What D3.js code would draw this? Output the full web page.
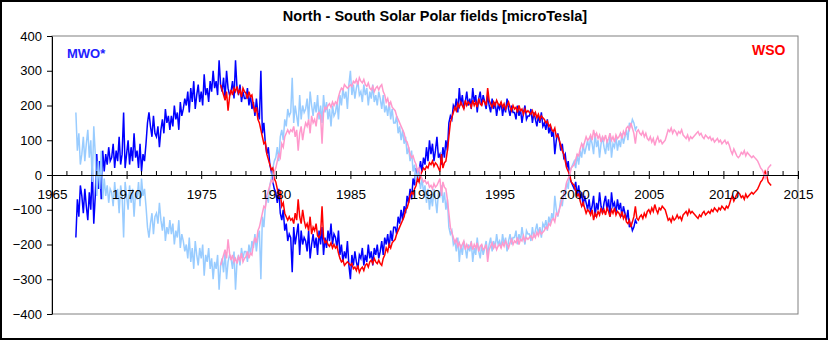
<!DOCTYPE html>
<html>
<head>
<meta charset="utf-8">
<script src="https://cdn.jsdelivr.net/npm/d3@7"></script>
<style>
  body { margin: 0; background: #fff; }
  svg { display: block; font-family: "Liberation Sans", Arial, sans-serif; }
</style>
</head>
<body>
<div id="chart"></div>
<script>
// valores (microTesla), un punto cada 0.1 año
const mwoStart = 1966.6;
const wsoStart = 1976.3;
const step = 0.1;

const mwo = [
  -180, -70, -120, -30,
  -60, -110, -40, -90, -130, -50, -100, 20, -140, -60,
  60, -40, 40, -70, 70, 10, 60, 30, 80, 40,
  50, 90, 20, 70, 40, 110, 30, 60, 180, 20,
  60, 100, 30, 80, 40, 120, 50, 70, 20, 90,
  10, 60, 40, 90, 150, 180, 140, 110, 170, 120,
  110, 140, 80, 130, 160, 120, 190, 150, 170, 130,
  170, 140, 200, 160, 180, 130, 210, 170, 190, 220,
  200, 240, 180, 250, 210, 270, 190, 230, 260, 210,
  240, 200, 290, 230, 250, 210, 270, 240, 300, 250,
  270, 230, 330, 260, 240, 280, 220, 300, 250, 230,
  240, 270, 220, 330, 250, 230, 260, 210, 240, 220,
  220, 250, 200, 230, 190, 210, 170, 220, 180, 160,
  300, 120, 150, 90, 60, 80, 30, 10, -20, -40,
  -50, -80, -40, -110, -130, -100, -160, -140, -190, -170,
  -180, -280, -150, -200, -170, -140, -230, -160, -200, -180,
  -190, -220, -160, -240, -200, -170, -210, -180, -230, -160,
  -200, -150, -230, -180, -210, -160, -190, -140, -200, -170,
  -180, -210, -160, -230, -200, -250, -220, -240, -190, -260,
  -300, -230, -260, -220, -250, -270, -230, -240, -210, -260,
  -230, -250, -200, -240, -220, -260, -210, -230, -200, -240,
  -220, -190, -230, -180, -200, -170, -210, -160, -190, -150,
  -150, -170, -120, -140, -100, -130, -90, -110, -60, -80,
  -40, -70, -10, -30, 20, -20, 10, 40, 10, 50,
  30, 80, 40, 100, 60, 90, 40, 70, 110, 50,
  60, 30, 80, 50, 100, 70, 150, 170, 160, 200,
  190, 220, 180, 250, 200, 230, 190, 210, 240, 200,
  220, 190, 250, 210, 230, 180, 220, 240, 200, 230,
  210, 190, 230, 200, 180, 220, 190, 210, 170, 200,
  190, 210, 170, 200, 180, 220, 190, 170, 200, 180,
  180, 160, 200, 170, 190, 150, 180, 200, 160, 170,
  170, 190, 150, 180, 160, 140, 170, 150, 180, 140,
  150, 130, 160, 120, 140, 110, 130, 60, 100, 120,
  100, 70, 90, 50, 60, 20, 40, -10, -20, -30,
  -40, -20, -60, -30, -70, -50, -90, -60, -80, -100,
  -70, -110, -90, -60, -120, -80, -100, -50, -90, -110,
  -80, -60, -100, -70, -120, -50, -90, -80, -110, -70,
  -100, -80, -120, -90, -110, -130, -100, -150, -140, -160,
  -150, -130, -140
];

const wso = [
  260, 245, 230, 215, 240, 185, 225,
  245, 230, 250, 240, 255, 235, 245, 225, 250, 240,
  235, 220, 240, 225, 230, 200, 180, 195, 160, 150,
  130, 110, 90, 95, 60, 45, 30, 15, 20, -10,
  -20, -40, -60, -50, -90, -80, -110, -120, -130, -120,
  -130, -125, -140, -110, -130, -70, -120, -140, -100, -130,
  -150, -140, -160, -120, -170, -150, -160, -140, -175, -180,
  -170, -90, -180, -195, -190, -200, -205, -195, -210, -200,
  -210, -205, -225, -240, -250, -245, -260, -255, -250, -255,
  -260, -255, -270, -265, -275, -260, -280, -270, -265, -275,
  -260, -255, -265, -250, -245, -255, -240, -250, -255, -245,
  -255, -260, -240, -230, -210, -220, -200, -210, -195, -190,
  -185, -170, -160, -150, -140, -130, -120, -100, -95, -80,
  -60, -50, -55, -40, -30, -10, -20, 0, 10, 20,
  15, 25, 20, 35, 30, 40, 25, 35, 30, 20,
  10, 60, 20, 35, 40, 70, 110, 150, 165, 180,
  195, 185, 205, 195, 210, 200, 190, 215, 200, 210,
  205, 195, 215, 200, 210, 195, 220, 205, 200, 215,
  210, 200, 250, 215, 205, 195, 210, 200, 215, 205,
  200, 210, 195, 205, 190, 200, 210, 195, 185, 200,
  190, 195, 180, 200, 185, 190, 175, 190, 180, 185,
  180, 175, 185, 170, 180, 165, 175, 160, 170, 165,
  160, 150, 155, 140, 145, 130, 125, 135, 110, 115,
  100, 85, 70, 60, 40, 20, 10, 0, -20, -25,
  -30, -45, -60, -55, -75, -90, -80, -95, -110, -100,
  -105, -115, -100, -130, -110, -120, -105, -115, -95, -110,
  -100, -115, -95, -105, -120, -100, -110, -95, -115, -105,
  -110, -120, -105, -125, -115, -135, -140, -130, -150, -135,
  -120, -90, -125, -130, -120, -115, -125, -110, -120, -105,
  -100, -110, -95, -105, -85, -100, -110, -95, -100, -90,
  -95, -100, -115, -130, -125, -135, -120, -130, -125, -115,
  -125, -120, -130, -115, -110, -105, -115, -100, -110, -105,
  -110, -115, -120, -125, -115, -120, -110, -105, -115, -110,
  -105, -110, -100, -105, -95, -100, -105, -95, -100, -90,
  -95, -100, -90, -95, -85, -70, -60, -75, -65, -55,
  -50, -55, -65, -60, -70, -55, -65, -60, -55, -50,
  -55, -50, -45, -40, -30, -20, -15, -5, 10, 0,
  -20, -25, -30
];

const xTicks = [1965, 1970, 1975, 1980, 1985, 1990, 1995, 2000, 2005, 2010, 2015];
const yTicks = [-400, -300, -200, -100, 0, 100, 200, 300, 400];

const width = 829;
const height = 341;
const margin = { top: 36, right: 31, bottom: 27, left: 52 };

const svg = d3.select('#chart')
  .append('svg')
  .attr('width', width)
  .attr('height', height);

// marco exterior
svg.append('rect')
  .attr('x', 1).attr('y', 1)
  .attr('width', width - 3).attr('height', height - 3)
  .attr('fill', '#fff')
  .attr('stroke', '#000')
  .attr('stroke-width', 2);

const x = d3.scaleLinear()
  .domain([1965, 2015])
  .range([margin.left, width - margin.right]);

const y = d3.scaleLinear()
  .domain([-400, 400])
  .range([height - margin.bottom, margin.top]);

// borde del area de trazado
svg.append('rect')
  .attr('x', x(1965)).attr('y', y(400))
  .attr('width', x(2015) - x(1965)).attr('height', y(-400) - y(400))
  .attr('fill', 'none')
  .attr('stroke', '#808080')
  .attr('stroke-width', 1);

// series: la original y su reflejo (el grafico dibuja tambien -valor)
const toPoints = (vals, start, sign) => vals.map((v, i) => [start + i * step, sign * v]);

const line = d3.line()
  .x(d => x(d[0]))
  .y(d => y(d[1]));

const series = [
  { pts: toPoints(mwo, mwoStart, 1), color: '#0000ff' },
  { pts: toPoints(mwo, mwoStart, -1), color: '#99ccff' },
  { pts: toPoints(wso, wsoStart, 1), color: '#ff0000' },
  { pts: toPoints(wso, wsoStart, -1), color: '#ff99cc' }
];

svg.append('g')
  .selectAll('path')
  .data(series)
  .join('path')
  .attr('d', d => line(d.pts))
  .attr('fill', 'none')
  .attr('stroke', d => d.color)
  .attr('stroke-width', 1.5)
  .attr('stroke-linejoin', 'miter');

// eje Y
const ejeY = svg.append('g')
  .attr('transform', `translate(${x(1965)},0)`)
  .call(d3.axisLeft(y).tickValues(yTicks).tickSize(5).tickSizeOuter(0).tickPadding(5));
ejeY.select('.domain').attr('stroke', '#000');
ejeY.selectAll('text').attr('font-size', '13px').attr('fill', '#000')
  .attr('font-family', '"Liberation Sans", Arial, sans-serif');

// eje X cruzando en 0
const ejeX = svg.append('g')
  .attr('transform', `translate(0,${y(0)})`)
  .call(d3.axisBottom(x).tickValues(xTicks).tickFormat(d3.format('d')).tickSize(4).tickSizeOuter(0));
ejeX.selectAll('.tick line').attr('y1', -4).attr('y2', 4);
ejeX.selectAll('text')
  .attr('y', 24).attr('dy', null)
  .attr('font-size', '13.5px').attr('fill', '#000')
  .attr('font-family', '"Liberation Sans", Arial, sans-serif');

// marcas menores cada año
svg.append('g')
  .selectAll('line')
  .data(d3.range(1966, 2015).filter(v => v % 5 !== 0))
  .join('line')
  .attr('x1', d => x(d)).attr('x2', d => x(d))
  .attr('y1', y(0)).attr('y2', y(0) - 4)
  .attr('stroke', '#000');

// titulo y etiquetas
svg.append('text')
  .attr('x', 435).attr('y', 21)
  .attr('text-anchor', 'middle')
  .attr('font-size', '14.5px')
  .attr('font-weight', 'bold')
  .text('North - South Solar Polar fields [microTesla]');

svg.append('text')
  .attr('x', 67).attr('y', 58)
  .attr('font-size', '13px')
  .attr('font-weight', 'bold')
  .attr('fill', '#2222ff')
  .text('MWO*');

svg.append('text')
  .attr('x', 752).attr('y', 55)
  .attr('font-size', '14px')
  .attr('font-weight', 'bold')
  .attr('fill', '#ff0000')
  .text('WSO');
</script>
</body>
</html>
